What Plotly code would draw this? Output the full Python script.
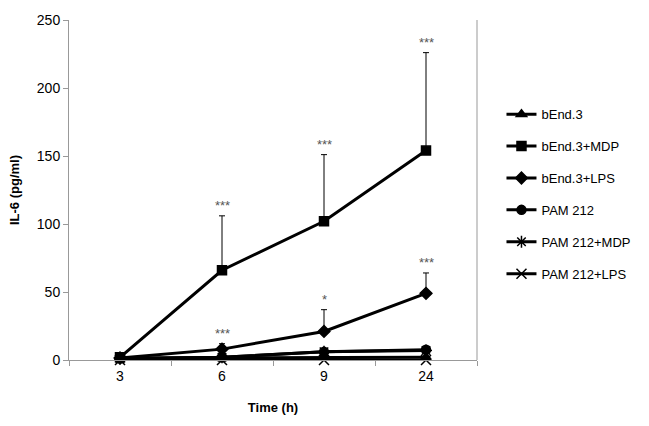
import plotly.graph_objects as go

times = ["3", "6", "9", "24"]
series_names = ["bEnd.3", "bEnd.3+MDP", "bEnd.3+LPS", "PAM 212", "PAM 212+MDP", "PAM 212+LPS"]
bend = [1.5, 1.5, 2, 2]
bend_mdp = [2, 66, 102, 154]
bend_lps = [1.5, 8, 21, 49]
pam = [1, 2, 6, 7.5]
pam_mdp = [1, 2, 6, 7]
pam_lps = [0, 0, 0, 0]
err_mdp = [0, 40, 49, 72]
err_lps = [0, 4, 16, 15]
markers = ["triangle-up", "square", "diamond", "circle", "asterisk-open", "x-thin-open"]
sig_mdp = ["", "***", "***", "***"]
sig_lps = ["", "***", "*", "***"]

data = [bend, bend_mdp, bend_lps, pam, pam_mdp, pam_lps]
errs = [None, err_mdp, err_lps, None, None, None]

fig = go.Figure()
for name, y, m, e in zip(series_names, data, markers, errs):
    kw = {}
    if e is not None:
        kw["error_y"] = dict(type="data", array=e, symmetric=False, arrayminus=[0]*4,
                             color="black", thickness=1, width=3)
    size = 9 if m in ("square", "circle", "diamond", "triangle-up") else 10
    fig.add_trace(go.Scatter(
        x=times, y=y, name=name, mode="lines+markers", legendgroup=name,
        line=dict(color="black", width=3), cliponaxis=False,
        marker=dict(symbol=m, size=size, color="black", line=dict(color="black", width=1.5)),
        **kw))

for vals, errv, sigs in ((bend_mdp, err_mdp, sig_mdp), (bend_lps, err_lps, sig_lps)):
    for i, (v, e, s) in enumerate(zip(vals, errv, sigs)):
        if s:
            fig.add_annotation(x=i, y=v + e, text=s, showarrow=False, yshift=10,
                               font=dict(size=13, color="#555555"))

fig.add_shape(type="line", xref="paper", yref="paper", x0=1, x1=1, y0=0, y1=1,
              line=dict(color="#999999", width=1))

fig.update_layout(
    width=649, height=426,
    margin=dict(l=69, r=172, t=12, b=66),
    paper_bgcolor="white", plot_bgcolor="white",
    font=dict(family="Liberation Sans, Arial, sans-serif", color="black"),
    showlegend=True,
    legend=dict(x=1.06, y=0.767, xanchor="left", yanchor="top",
                font=dict(size=13), tracegroupgap=12, itemwidth=30,
                bgcolor="rgba(0,0,0,0)"),
    xaxis=dict(type="category", showgrid=False, showline=True, linecolor="#999999",
               ticks="outside", tickson="boundaries", ticklen=5, tickcolor="#999999",
               tickfont=dict(size=14), range=[-0.5, 3.5], ticklabelstandoff=3,
               title=dict(text="<b>Time (h)</b>", font=dict(size=13), standoff=20)),
    yaxis=dict(range=[0, 250], dtick=50, showgrid=False, showline=True, linecolor="#999999",
               ticks="outside", ticklen=5, tickcolor="#999999", zeroline=False,
               tickfont=dict(size=14),
               title=dict(text="<b>IL-6 (pg/ml)</b>", font=dict(size=13), standoff=14)),
)

fig.write_html("out.html", config={"displayModeBar": False},
               post_script="document.body.style.margin='0';")
